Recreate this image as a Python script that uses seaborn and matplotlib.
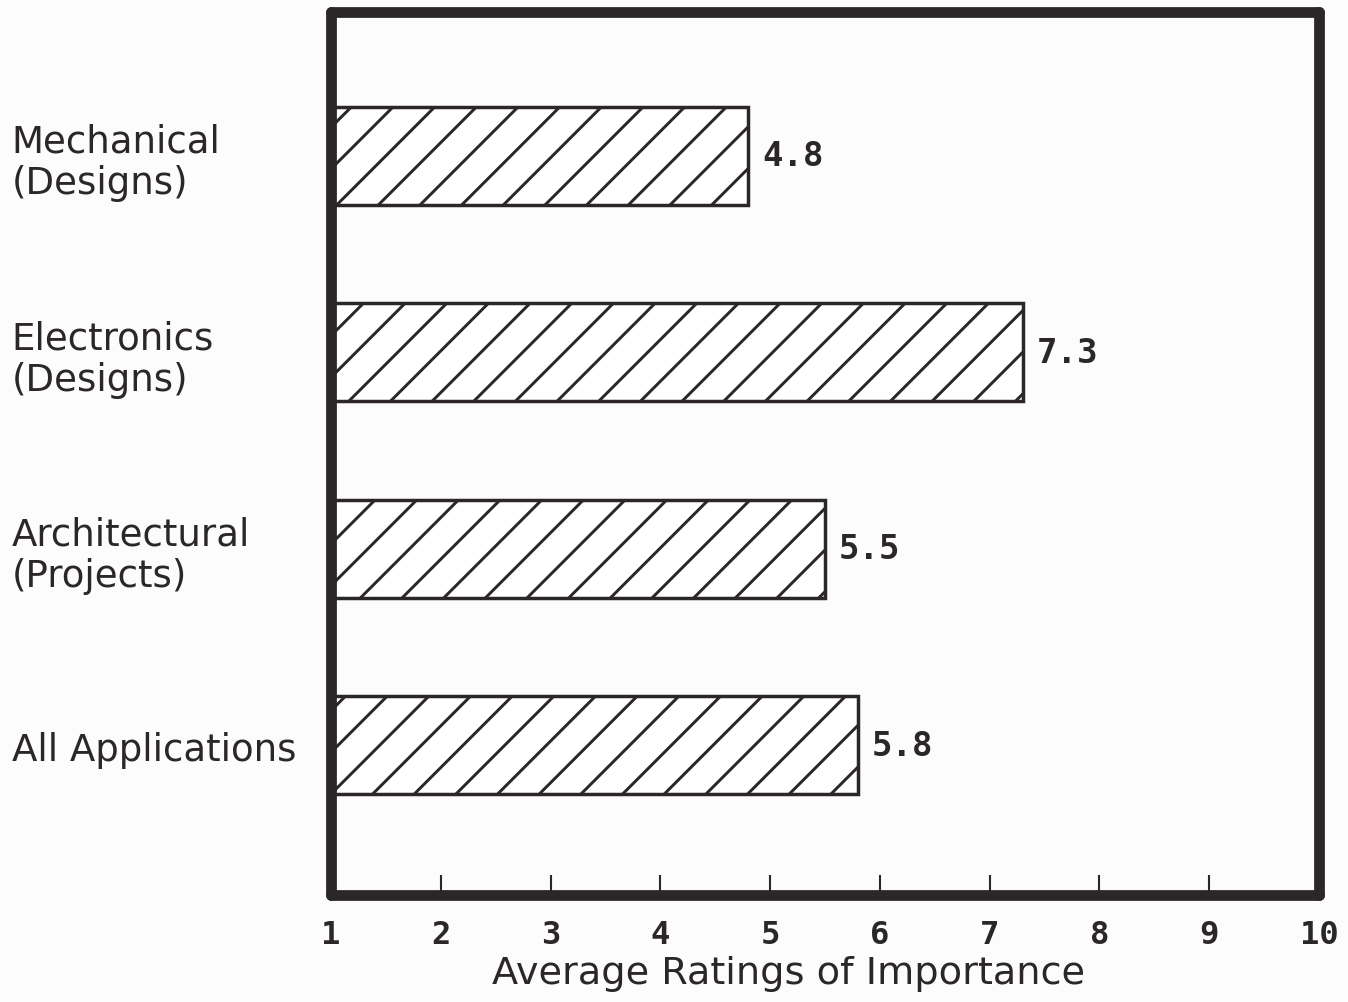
import matplotlib
matplotlib.use("Agg")
import matplotlib.pyplot as plt
import seaborn as sns
import pandas as pd

# data
categories = ["Mechanical\n(Designs)", "Electronics\n(Designs)",
              "Architectural\n(Projects)", "All Applications"]
ratings = [4.8, 7.3, 5.5, 5.8]
xticks = [1, 2, 3, 4, 5, 6, 7, 8, 9, 10]

df = pd.DataFrame({"category": categories, "rating": ratings})

ink = "#2b2728"
paper = "#fdfcfc"

sns.set_theme(style="white")
plt.rcParams["font.family"] = ["DejaVu Sans"]
plt.rcParams["hatch.linewidth"] = 0.85
plt.rcParams["hatch.color"] = ink

# dpi 250 so the '//' hatch comes out with roughly the spacing of the scan
fig = plt.figure(figsize=(1348 / 250, 1003 / 250), dpi=250, facecolor=paper)
ax = fig.add_axes([331 / 1348, 1 - 896 / 1003, 988 / 1348, 883 / 1003])
ax.set_facecolor(paper)

sns.barplot(data=df, x="rating", y="category", orient="h", ax=ax,
            color="white", edgecolor=ink, linewidth=1.0, hatch="//",
            width=0.5, errorbar=None)

ax.set_xlim(1, 10)
ax.set_ylim(3.763, -0.732)

# value labels to the right of each bar
for cont in ax.containers:
    ax.bar_label(cont, fmt="%.1f", padding=4, fontsize=9.8,
                 family="DejaVu Sans Mono", fontweight="bold", color=ink)

for s in ax.spines.values():
    s.set_visible(True)
    s.set_linewidth(3.1)
    s.set_color(ink)
    s.set_capstyle("round")

ax.set_xticks(xticks)
ax.set_xticklabels([str(t) for t in xticks], family="DejaVu Sans Mono",
                   fontweight="bold", fontsize=9.3, color=ink)
ax.tick_params(axis="x", direction="in", length=5.8, width=0.6,
               color=ink, pad=7, bottom=True, top=False)

ax.set_yticks(range(len(categories)))
ax.set_yticklabels(categories, ha="left", fontsize=10.7, color=ink,
                   linespacing=1.15)
ax.tick_params(axis="y", length=0, pad=92)

ax.set_ylabel("")
ax.set_xlabel("Average Ratings of Importance", fontsize=11, color=ink)
ax.xaxis.set_label_coords(0.463, -0.068)

fig.savefig("out.png", dpi=250, facecolor=paper)
